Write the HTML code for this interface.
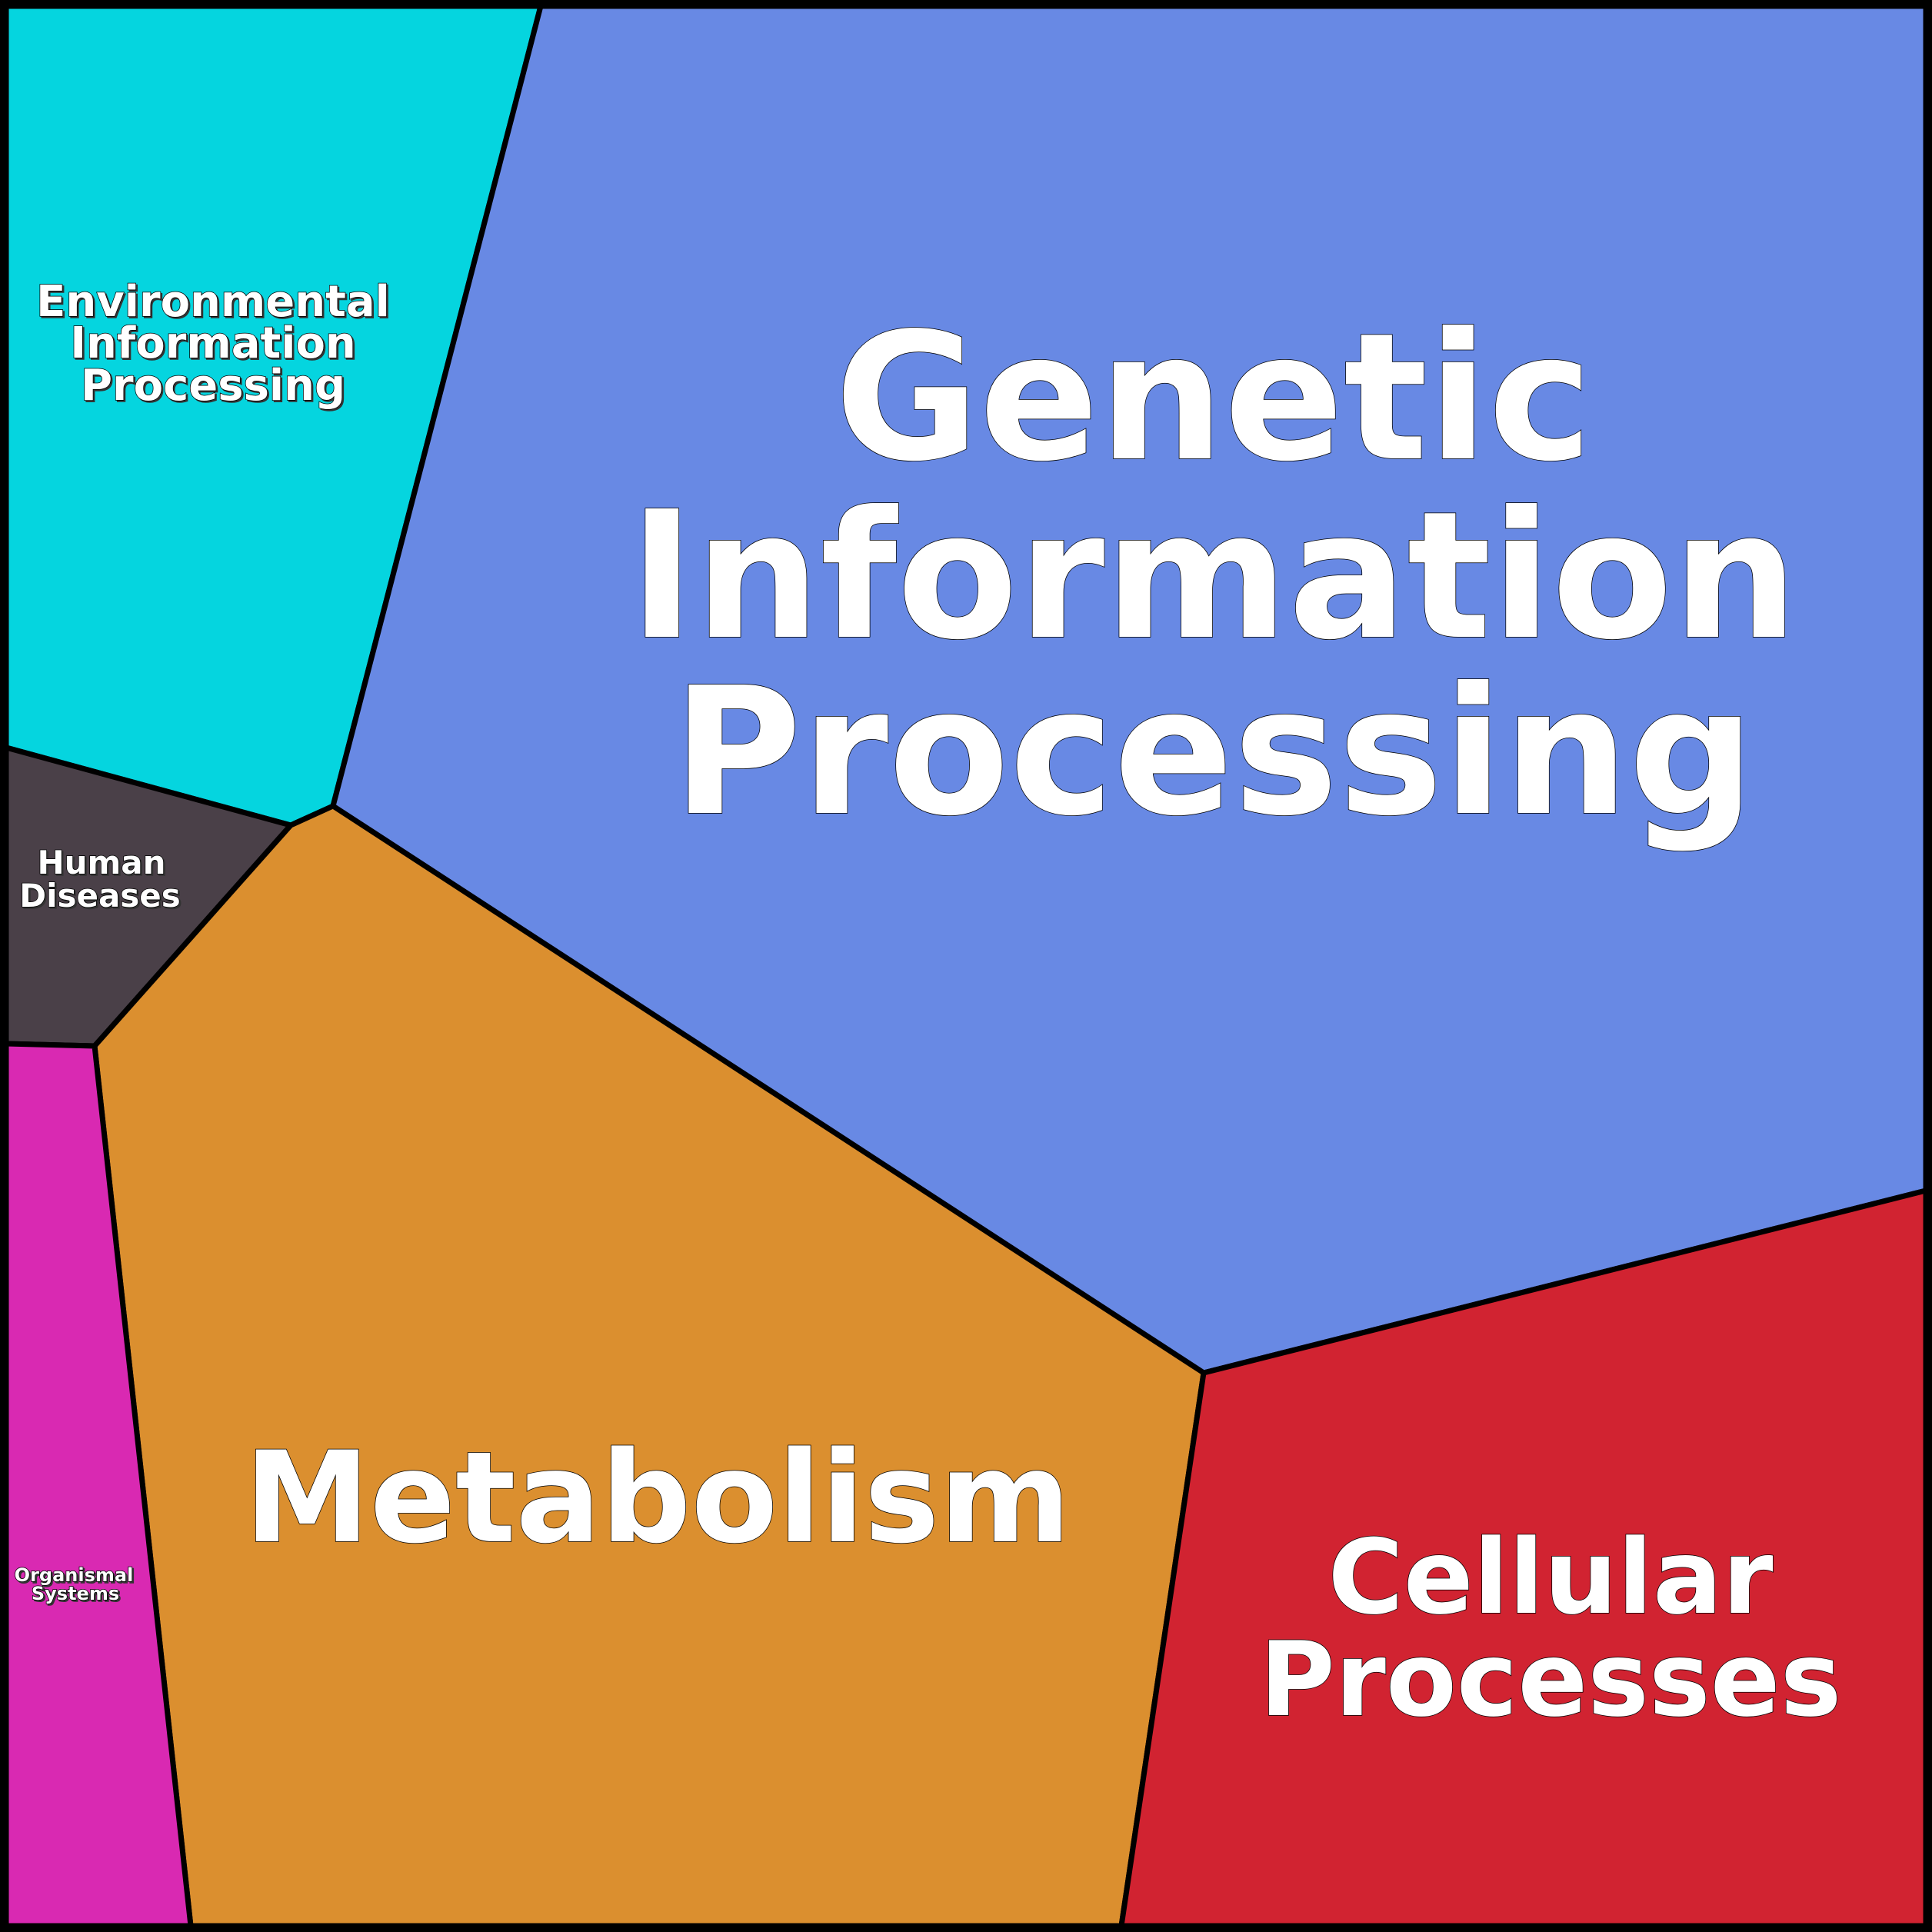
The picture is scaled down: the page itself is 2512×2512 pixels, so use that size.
<!DOCTYPE html>
<html><head><style>html,body{margin:0;padding:0;background:#000}svg{display:block}
text{font-family:"DejaVu Sans","Liberation Sans",sans-serif;font-weight:bold;fill:#fff;stroke:#000;stroke-width:1.5;text-anchor:middle;paint-order:stroke}
.s{filter:drop-shadow(2px 2px 0 #333)}</style></head><body>
<svg width="2512" height="2512" viewBox="0 0 2512 2512" xmlns="http://www.w3.org/2000/svg">
<g stroke="#000" stroke-width="7" stroke-linejoin="round">
<polygon points="8,8 703,8 433,1048 378,1073 8,972" fill="#05d5df"/>
<polygon points="703,8 2504,8 2504,1548 1565,1785 433,1048" fill="#6889e4"/>
<polygon points="8,972 378,1073 123,1360 8,1357" fill="#4a4048"/>
<polygon points="378,1073 433,1048 1565,1785 1458,2504 248,2504 123,1360" fill="#db8f2f"/>
<polygon points="8,1357 123,1360 248,2504 8,2504" fill="#d929b2"/>
<polygon points="1565,1785 2504,1548 2504,2504 1458,2504" fill="#d12331"/>
</g>
<rect x="5" y="5" width="2502" height="2502" fill="none" stroke="#000" stroke-width="10"/>
<g class="s" font-size="56"><text x="277" y="411">Environmental</text><text x="277" y="465">Information</text><text x="277" y="520">Processing</text></g>
<g class="s" font-size="42"><text x="132" y="1136">Human</text><text x="130" y="1179">Diseases</text></g>
<g class="s" font-size="24" style="stroke-width:1"><text x="96" y="2056">Organismal</text><text x="98" y="2080">Systems</text></g>
<g font-size="229"><text x="1578" y="596">Genetic</text><text x="1578" y="828">Information</text><text x="1578" y="1057">Processing</text></g>
<g font-size="164"><text x="855" y="2004">Metabolism</text></g>
<g font-size="134"><text x="2016" y="2097">Cellular</text><text x="2016" y="2230">Processes</text></g>
</svg></body></html>
